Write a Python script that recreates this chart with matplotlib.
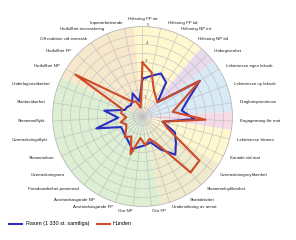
import numpy as np
import matplotlib
matplotlib.use("Agg")
import matplotlib.pyplot as plt

plt.rcParams['font.family'] = ['Liberation Sans', 'DejaVu Sans']

# kategorier medurs från toppen
labels = ["Hälsning FP int", "Hälsning FP tid", "Hälsning NP int", "Hälsning NP tid",
          "Undergivenhet", "Lekintresse egen leksak", "Lekintresse ny leksak",
          "Dragkampsintresse", "Engagemang för mat", "Lekintresse föraren",
          "Kontakt vid mat", "Överraskningsnyfikenhet", "Skrammelnyfikenhet",
          "Skottaktivitet", "Undersökning av annat", "Oro FP", "Oro NP",
          "Avståndstagande FP", "Avståndstagande NP", "Förarbundenhet promenad",
          "Överraskningsoro", "Skrammeloro", "Överraskningsflykt", "Skrammelflykt",
          "Skottosäkerhet", "Underlagsosäkerhet", "Hotfullhet NP", "Hotfullhet FP",
          "Off reaktion vid överrask", "Hotfullhet överraskning", "Imponerbeteende"]

rasen = [2.1, 2.3, 2.6, 2.3, 1.15, 3.75, 2.7, 2.2, 2.9, 1.15, 2.0, 2.35, 2.8, 2.1, 1.5,
         1.6, 1.7, 1.9, 1.6, 1.45, 1.35, 1.33, 2.65, 1.35, 2.15, 1.05, 1.0, 0.9, 1.0,
         1.4, 0.85]
hunden = [3.0, 2.5, 1.6, 1.3, 1.15, 3.75, 2.3, 1.7, 3.5, 1.15, 1.6, 4.0, 4.1, 1.8, 1.3,
          1.6, 1.2, 2.2, 1.27, 1.5, 1.15, 1.0, 1.25, 0.9, 1.2, 1.2, 4.4, 1.6, 1.0,
          0.9, 0.5]

# bakgrundsgrupper
groups = (["halsning"] * 4 + ["under"] + ["lek"] * 3 + ["mat"] + ["halsning"] * 2 +
          ["nyfiken"] * 4 + ["oro"] * 11 + ["hot"] * 5)
group_colors = {"halsning": "#fff8cf", "under": "#e8d9ed", "lek": "#d7eaf6",
                "mat": "#f6dbe7", "nyfiken": "#efebcc", "oro": "#dcefd3",
                "hot": "#f8e8cb"}

n = len(labels)
theta = np.arange(n) * 2 * np.pi / n

fig = plt.figure(figsize=(2.96, 2.40), dpi=100)
ax = fig.add_axes([0.1774, 0.1396, 0.608, 0.75], projection='polar')
ax.set_theta_zero_location('N')
ax.set_theta_direction(-1)
ax.set_ylim(0, 5)

ax.bar(theta, 5, width=2 * np.pi / n, bottom=0,
       color=[group_colors[g] for g in groups], edgecolor='none', zorder=0)

ax.set_xticks(theta)
ax.set_xticklabels([])
ax.set_yticks(np.arange(0.5, 5.01, 0.5))
ax.set_yticklabels(['', '1', '', '2', '', '3', '', '4', '', '5'], fontsize=3.2, color='#555555')
ax.set_rlabel_position(3)
ax.grid(color='#c0c0c0', linewidth=0.45)
ax.spines['polar'].set_color('#b5b5b5')
ax.spines['polar'].set_linewidth(0.5)
ax.tick_params(pad=0)

t = np.append(theta, theta[0])
ax.plot(t, np.append(rasen, rasen[0]), color='#2a2fc0', linewidth=1.5,
        label='Rasen (1 330 st. samtliga)', zorder=3)
ax.plot(t, np.append(hunden, hunden[0]), color='#cf4a26', linewidth=1.5,
        label='Hunden', zorder=4)

for i, (th, lab) in enumerate(zip(theta, labels)):
    s, c = np.sin(th), np.cos(th)
    if abs(s) < 0.05:
        ha = 'center'
    elif s > 0:
        ha = 'left'
    else:
        ha = 'right'
    dx = 8 * s + (6 if i == 1 else 0)
    dy = 5 * c + (2.5 if i == 0 else 0)
    ax.annotate(lab, xy=(th, 5), xytext=(dx, dy), textcoords='offset pixels',
                ha=ha, va='center', fontsize=3.2, color='#222222')

fig.legend(loc='center left', bbox_to_anchor=(0.015, 0.067), ncol=2, frameon=False,
           fontsize=3.9, handlelength=2.4, handletextpad=0.6, columnspacing=1.4)

fig.savefig('out.png', dpi=100)
